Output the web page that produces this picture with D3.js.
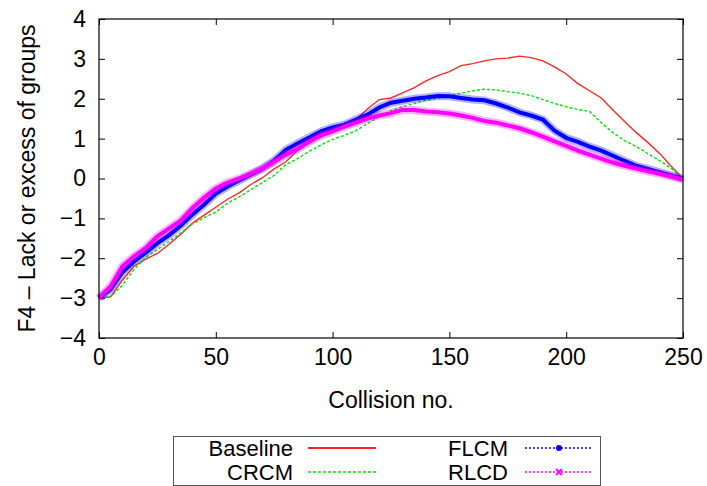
<!DOCTYPE html>
<html>
<head>
<meta charset="utf-8">
<script src="https://cdn.jsdelivr.net/npm/d3@7"></script>
<style>
  body { margin: 0; background: #fff; }
  text { font-family: "Liberation Sans", Arial, Helvetica, sans-serif; fill: #000; }
</style>
</head>
<body>
<div id="chart-area"></div>
<script>
// Data (one value every 5 collisions)
const collisions = d3.range(0, 251, 5);
const baseline = [-3.0, -2.97, -2.55, -2.2, -2.02, -1.88, -1.65, -1.4, -1.12, -0.92,
  -0.72, -0.52, -0.36, -0.15, 0.02, 0.24, 0.42, 0.7, 0.9, 1.04,
  1.2, 1.32, 1.48, 1.75, 1.98, 2.02, 2.15, 2.28, 2.45, 2.58,
  2.68, 2.83, 2.88, 2.95, 3.0, 3.02, 3.07, 3.03, 2.95, 2.8,
  2.62, 2.38, 2.2, 2.02, 1.72, 1.43, 1.15, 0.9, 0.63, 0.3, 0.0];
const crcm = [-3.0, -2.96, -2.68, -2.28, -1.98, -1.78, -1.58, -1.36, -1.14, -0.98,
  -0.84, -0.62, -0.46, -0.28, -0.1, 0.08, 0.35, 0.5, 0.68, 0.84,
  0.98, 1.08, 1.2, 1.38, 1.55, 1.7, 1.8, 1.88, 1.96, 2.02,
  2.08, 2.14, 2.2, 2.24, 2.22, 2.18, 2.14, 2.08, 1.98, 1.88,
  1.8, 1.73, 1.68, 1.4, 1.15, 0.95, 0.8, 0.62, 0.45, 0.25, 0.0];
const flcm = [-3.0, -2.78, -2.35, -2.08, -1.86, -1.62, -1.42, -1.18, -0.9, -0.65,
  -0.38, -0.2, -0.05, 0.1, 0.25, 0.45, 0.72, 0.88, 1.03, 1.18,
  1.28, 1.35, 1.48, 1.6, 1.78, 1.9, 1.95, 2.0, 2.03, 2.07,
  2.06, 2.02, 1.98, 1.96, 1.88, 1.78, 1.66, 1.58, 1.48, 1.2,
  1.02, 0.92, 0.8, 0.7, 0.57, 0.44, 0.32, 0.24, 0.16, 0.08, 0.0];
const rlcd = [-3.0, -2.7, -2.2, -1.95, -1.74, -1.45, -1.25, -1.05, -0.74, -0.48,
  -0.25, -0.1, 0.0, 0.12, 0.26, 0.42, 0.6, 0.74, 0.92, 1.08,
  1.18, 1.3, 1.4, 1.5, 1.58, 1.64, 1.72, 1.72, 1.68, 1.66,
  1.63, 1.58, 1.52, 1.44, 1.4, 1.33, 1.26, 1.16, 1.05, 0.93,
  0.82, 0.7, 0.6, 0.5, 0.4, 0.32, 0.25, 0.18, 0.12, 0.05, -0.03];

const seriesNames = ["Baseline", "CRCM", "FLCM", "RLCD"];
const xTicks = [0, 50, 100, 150, 200, 250];
const yTicks = [-4, -3, -2, -1, 0, 1, 2, 3, 4];

const W = 707, H = 486;
const margin = { top: 19, right: 24, bottom: 148, left: 99 };
const width = W - margin.left - margin.right;
const height = H - margin.top - margin.bottom;
const fontSize = "23px";

const colors = ["#ff0000", "#00e000", "#0000ff", "#ff00ff"];

const svg = d3.select("#chart-area")
  .append("svg")
    .attr("width", W)
    .attr("height", H);

const g = svg.append("g")
  .attr("transform", `translate(${margin.left},${margin.top})`);

// Scales
const xScale = d3.scaleLinear().domain([0, 250]).range([0, width]);
const yScale = d3.scaleLinear().domain([-4, 4]).range([height, 0]);

const fmt = d => d < 0 ? "\u2212" + Math.abs(d) : String(d);

// Axes (ticks point inward, mirrored on top/right)
const xAxisGroup = g.append("g")
  .attr("transform", `translate(0,${height})`)
  .call(d3.axisBottom(xScale).tickValues(xTicks).tickSize(-6).tickPadding(11).tickFormat(fmt));
const yAxisGroup = g.append("g")
  .call(d3.axisLeft(yScale).tickValues(yTicks).tickSize(-6).tickPadding(13).tickFormat(fmt));
g.append("g")
  .call(d3.axisTop(xScale).tickValues(xTicks).tickSize(-6).tickFormat(""));
g.append("g")
  .attr("transform", `translate(${width},0)`)
  .call(d3.axisRight(yScale).tickValues(yTicks).tickSize(-6).tickFormat(""));

g.selectAll(".domain").remove();
g.selectAll(".tick line").attr("stroke", "#000").attr("stroke-width", 1);
g.selectAll(".tick text").style("font-size", fontSize).attr("fill", "#000");
xAxisGroup.selectAll(".tick text").attr("dy", "0.71em");

// Lines
const line = d3.line()
  .x((d, i) => xScale(collisions[i]))
  .y(d => yScale(d));

const plot = g.append("g");

// Baseline
plot.append("path")
  .attr("d", line(baseline))
  .attr("fill", "none")
  .attr("stroke", colors[0])
  .attr("stroke-opacity", 0.85)
  .attr("stroke-width", 1.4);

// CRCM
plot.append("path")
  .attr("d", line(crcm))
  .attr("fill", "none")
  .attr("stroke", colors[1])
  .attr("stroke-width", 1.4)
  .attr("stroke-dasharray", "3,2");

// FLCM and RLCD are dense point markers -> thick bands
[[flcm, colors[2]], [rlcd, colors[3]]].forEach(([vals, c]) => {
  plot.append("path")
    .attr("d", line(vals))
    .attr("fill", "none")
    .attr("stroke", c)
    .attr("stroke-opacity", 0.3)
    .attr("stroke-width", 8);
  plot.append("path")
    .attr("d", line(vals))
    .attr("fill", "none")
    .attr("stroke", c)
    .attr("stroke-width", 4);
});

// Frame
g.append("rect")
  .attr("width", width)
  .attr("height", height)
  .attr("fill", "none")
  .attr("stroke", "#000")
  .attr("stroke-width", 1.2);

// Axis titles
svg.append("text")
  .attr("x", margin.left + width / 2)
  .attr("y", 408)
  .attr("text-anchor", "middle")
  .style("font-size", fontSize)
  .text("Collision no.");

svg.append("text")
  .attr("transform", `translate(35,${margin.top + height / 2}) rotate(-90)`)
  .attr("text-anchor", "middle")
  .style("font-size", fontSize)
  .text("F4 \u2013 Lack or excess of groups");

// Legend
const legend = svg.append("g");
legend.append("rect")
  .attr("x", 173.5).attr("y", 436.5)
  .attr("width", 427).attr("height", 49)
  .attr("fill", "none")
  .attr("stroke", "#555")
  .attr("stroke-width", 1);

const legendPos = [
  { tx: 293, lx: 308, y: 448 },
  { tx: 293, lx: 308, y: 472 },
  { tx: 508, lx: 525, y: 448 },
  { tx: 508, lx: 525, y: 472 }
];

seriesNames.forEach((name, i) => {
  const p = legendPos[i];
  legend.append("text")
    .attr("x", p.tx).attr("y", p.y)
    .attr("dy", "0.35em")
    .attr("text-anchor", "end")
    .style("font-size", "22px")
    .text(name);
  const l = legend.append("line")
    .attr("x1", p.lx).attr("x2", p.lx + 68)
    .attr("y1", p.y).attr("y2", p.y)
    .attr("stroke", colors[i])
    .attr("stroke-width", 1.4);
  if (i === 1) l.attr("stroke-dasharray", "3,2");
  if (i === 0) l.attr("stroke-opacity", 0.85).attr("stroke-width", 2);
  if (i >= 2) {
    l.attr("stroke-dasharray", "2,2");
    const mx = p.lx + 34;
    if (i === 2) {
      legend.append("circle").attr("cx", mx).attr("cy", p.y).attr("r", 3).attr("fill", colors[i]);
    } else {
      legend.append("path")
        .attr("d", `M${mx - 3},${p.y - 3}L${mx + 3},${p.y + 3}M${mx - 3},${p.y + 3}L${mx + 3},${p.y - 3}`)
        .attr("stroke", colors[i]).attr("stroke-width", 2);
    }
  }
});
</script>
</body>
</html>
